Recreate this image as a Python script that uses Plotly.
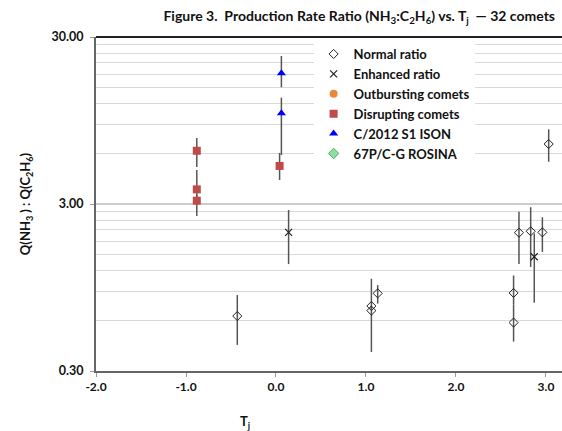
import plotly.graph_objects as go
import numpy as np

# ---- data ----
normal_x  = [-0.43, 1.06, 1.06, 1.13, 2.64, 2.64, 2.70, 2.83, 2.96, 3.03]
normal_y  = [0.64, 0.735, 0.69, 0.875, 0.88, 0.585, 2.02, 2.06, 2.03, 6.86]
normal_hi = [0.855, 1.07, 0.73, 0.98, 1.12, 0.75, 2.70, 2.87, 2.50, 8.40]
normal_lo = [0.43, 0.70, 0.39, 0.76, 0.75, 0.45, 1.31, 1.26, 1.55, 5.37]

enh_x  = [0.14, 2.87]
enh_y  = [2.03, 1.45]
enh_hi = [2.76, 2.00]
enh_lo = [1.31, 0.77]

disr_x  = [-0.88, -0.88, -0.88, 0.04]
disr_y  = [6.25, 3.67, 3.14, 5.07]
disr_hi = [7.45, 4.80, 3.40, 6.06]
disr_lo = [5.00, 3.30, 2.54, 4.18]

ison_x  = [0.06, 0.06]
ison_y  = [18.2, 10.5]
ison_hi = [23.1, 13.0]
ison_lo = [15.0, 5.89]

y_tick_vals = [0.3, 3, 30]
y_tick_text = ["0.30", "3.00", "30.00"]
y_minor = [0.3 * k for k in range(2, 10)] + [3 * k for k in range(2, 10)]
x_tick_vals = [-2, -1, 0, 1, 2, 3]
x_tick_text = ["-2.0", "-1.0", "0.0", "1.0", "2.0", "3.0"]

FONT = "Lato"
ERR = "#555555"
TXT = "#111111"

def err(y, hi, lo):
    y = np.array(y); hi = np.array(hi); lo = np.array(lo)
    return dict(type="data", symmetric=False, array=list(hi - y), arrayminus=list(y - lo),
                color=ERR, thickness=1.5, width=0)

fig = go.Figure()
fig.add_trace(go.Scatter(x=normal_x, y=normal_y, mode="markers", name="<b>Normal ratio</b>",
                         error_y=err(normal_y, normal_hi, normal_lo),
                         marker=dict(symbol="diamond-open", size=7, color="#222222", line=dict(width=1))))
fig.add_trace(go.Scatter(x=enh_x, y=enh_y, mode="markers", name="<b>Enhanced ratio</b>",
                         error_y=err(enh_y, enh_hi, enh_lo),
                         marker=dict(symbol="x-thin-open", size=7, color="#222222", line=dict(width=1.2, color="#222222"))))
fig.add_trace(go.Scatter(x=[None], y=[None], mode="markers", name="<b>Outbursting comets</b>",
                         marker=dict(symbol="circle", size=8, color="#E8883A")))
fig.add_trace(go.Scatter(x=disr_x, y=disr_y, mode="markers", name="<b>Disrupting comets</b>",
                         error_y=err(disr_y, disr_hi, disr_lo),
                         marker=dict(symbol="square", size=8, color="#BE4B48")))
fig.add_trace(go.Scatter(x=ison_x, y=ison_y, mode="markers", name="<b>C/2012 S1 ISON</b>",
                         error_y=err(ison_y, ison_hi, ison_lo),
                         marker=dict(symbol="triangle-up", size=8, color="#0000FF")))
fig.add_trace(go.Scatter(x=[None], y=[None], mode="markers", name="<b>67P/C-G ROSINA</b>",
                         marker=dict(symbol="diamond", size=8, color="#8FE0A0", line=dict(width=1, color="#4CAF60"))))

fig.update_layout(
    width=562, height=431,
    margin=dict(l=96, r=0, t=37, b=60),
    paper_bgcolor="white", plot_bgcolor="white",
    font=dict(family=FONT, size=11, color=TXT),
    title=dict(text="<b>Figure 3.  Production Rate Ratio (NH<sub>3</sub>:C<sub>2</sub>H<sub>6</sub>) vs. T<sub>j</sub>  — 32 comets</b>",
               x=555 / 562, xanchor="right", y=0.962, yanchor="middle", font=dict(size=14, family=FONT, color=TXT)),
    showlegend=True,
    legend=dict(x=0.467, y=0.994, xanchor="left", yanchor="top", bgcolor="white",
                font=dict(size=13, family=FONT, color=TXT), itemwidth=30,
                tracegroupgap=0),
)
fig.update_xaxes(range=[-2, 3.178], tickvals=x_tick_vals, ticktext=["<b>%s</b>" % t for t in x_tick_text],
                 showgrid=False, zeroline=False, showline=True, linecolor="#666666", linewidth=2,
                 ticks="outside", ticklen=4, tickcolor="#999999",
                 tickfont=dict(size=12, family=FONT, color=TXT))
fig.update_yaxes(type="log", range=[np.log10(0.3), np.log10(30)],
                 tickvals=y_tick_vals, ticktext=["<b>%s</b>" % t for t in y_tick_text],
                 showgrid=True, gridcolor="#cccccc", gridwidth=1.5,
                 minor=dict(tickvals=y_minor, showgrid=True, gridcolor="#d9d9d9", gridwidth=1.2, ticks=""),
                 zeroline=False, showline=True, linecolor="#666666", linewidth=2,
                 ticks="outside", ticklen=4, tickcolor="#999999", ticklabelstandoff=4,
                 tickfont=dict(size=12.5, family=FONT, color=TXT),
                 title=dict(text="<b>Q(NH<sub>3</sub> ) : Q(C<sub>2</sub>H<sub>6</sub>)</b>", standoff=18,
                            font=dict(size=13, family=FONT, color=TXT)))
fig.add_shape(type="line", xref="paper", yref="paper", x0=0, x1=1, y0=1, y1=1,
              line=dict(color="#222222", width=2))
fig.add_annotation(text="<b>T<sub>j</sub></b>", xref="paper", yref="paper",
                   x=(245 - 96) / 466, y=-0.152, xanchor="center", yanchor="middle",
                   showarrow=False, font=dict(size=13, family=FONT, color=TXT))

fig.write_html("out.html", config={"displayModeBar": False},
               post_script="document.body.style.margin='0';document.body.style.overflow='hidden';")
